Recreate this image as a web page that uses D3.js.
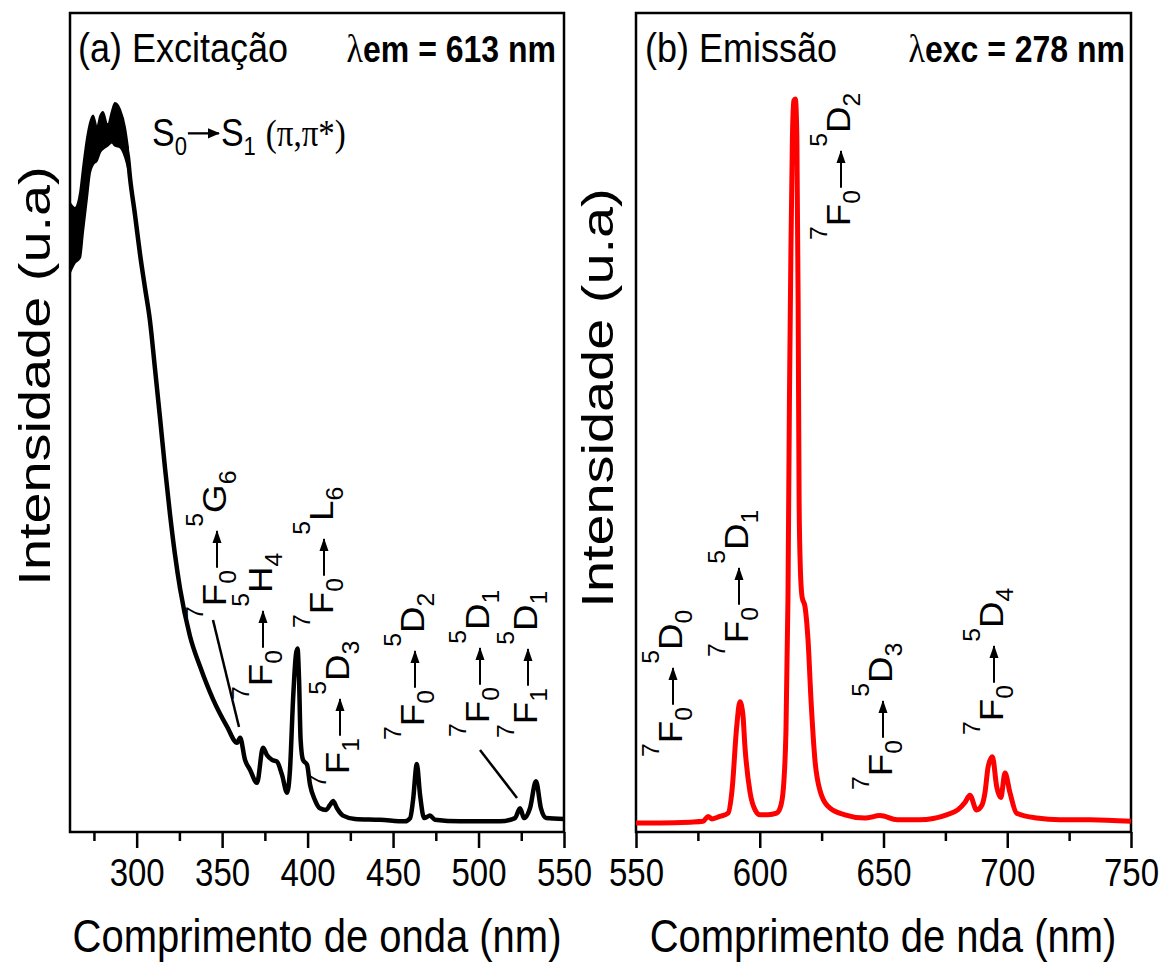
<!DOCTYPE html>
<html>
<head>
<meta charset="utf-8">
<script src="https://cdn.jsdelivr.net/npm/d3@7"></script>
<style>
body{margin:0;background:#fff;}
text{fill:#000;}
</style>
</head>
<body>
<div id="canvas"></div>
<script>
// (a) excitation spectrum, lambda em = 613 nm  (nm / normalised intensity)
var excNm  = [261,263.9,266.9,268.6,271,272.7,275.6,278.6,281.5,284.4,287.3,290.3,293.2,294.9,296.1,299,302,304.9,307.8,310.7,313.7,316.6,319.5,322.4,325.4,331.2,337.1,344.7,352.8,358.7,360.5,363.4,366.3,370.4,373.9,376.2,379.2,382.1,385,388,389.7,391.5,393.2,394.1,395,395.9,397.3,399.7,401.4,404.3,407.2,410.8,413.1,414.9,417.2,420.7,427.7,442.4,457,460,461.7,463.9,465.8,468.2,471.6,474.5,489.2,512.6,521.3,524.3,526.6,530.1,533.6,536.5,539.5,550];
var excInt = [0.725,0.728,0.741,0.772,0.812,0.836,0.846,0.855,0.860,0.864,0.864,0.859,0.842,0.824,0.799,0.754,0.705,0.664,0.624,0.566,0.505,0.444,0.388,0.339,0.297,0.239,0.202,0.162,0.129,0.109,0.115,0.088,0.076,0.060,0.103,0.094,0.088,0.086,0.070,0.048,0.076,0.162,0.217,0.224,0.186,0.113,0.088,0.082,0.058,0.039,0.029,0.027,0.033,0.038,0.029,0.020,0.016,0.015,0.013,0.017,0.039,0.083,0.045,0.017,0.020,0.015,0.013,0.013,0.017,0.029,0.017,0.029,0.062,0.029,0.017,0.016];
// noisy band at the start of the excitation curve (low / high envelope)
var bandNm = [261,263.9,266.9,268.6,271,272.7,274.5,276.8,278.6,280.3,283,285.5,287.3,290.3,293.2,294.9];
var bandLo = [0.683,0.695,0.701,0.732,0.775,0.805,0.815,0.820,0.830,0.834,0.838,0.842,0.838,0.836,0.824,0.811];
var bandHi = [0.768,0.762,0.781,0.811,0.848,0.866,0.875,0.860,0.874,0.879,0.862,0.880,0.890,0.882,0.860,0.836];

// (b) emission spectrum, lambda exc = 278 nm
var emiNm  = [550,559.7,571.8,577.1,579.1,580.7,583.9,587.2,588.8,590.7,592,593.2,594,596.1,598.1,600.1,603.3,606.8,608.6,609.8,610.6,611.4,612,612.6,613.2,613.8,614.4,615,615.5,615.9,616.3,617.1,618.3,619.5,620.7,622.3,624.3,628.4,634.4,642.5,648.6,655.5,664.7,675.5,680,682.9,684.9,687.6,689.8,691,692.3,694,695.7,697.4,699.1,701.1,703.8,711.9,721.3,733.4,750];
var emiInt = [0.011,0.011,0.012,0.013,0.019,0.016,0.019,0.023,0.051,0.129,0.159,0.143,0.105,0.048,0.027,0.021,0.021,0.023,0.033,0.064,0.125,0.284,0.529,0.713,0.848,0.893,0.895,0.848,0.652,0.407,0.333,0.287,0.275,0.235,0.162,0.088,0.051,0.029,0.021,0.017,0.020,0.015,0.015,0.021,0.027,0.036,0.045,0.027,0.033,0.048,0.080,0.092,0.056,0.042,0.072,0.048,0.023,0.017,0.015,0.015,0.013];

var excMajor = [300,350,400,450,500,550];
var excMinor = [275,325,375,425,475,525];
var emiMajor = [550,600,650,700,750];
var emiMinor = [575,625,675,725];

// transition labels  [initial term, final term]
var excLabels = [
  [['7','F','0'],['5','G','6']],
  [['7','F','0'],['5','H','4']],
  [['7','F','0'],['5','L','6']],
  [['7','F','1'],['5','D','3']],
  [['7','F','0'],['5','D','2']],
  [['7','F','0'],['5','D','1']],
  [['7','F','1'],['5','D','1']]
];
var emiLabels = [
  [['7','F','0'],['5','D','0']],
  [['7','F','0'],['5','D','1']],
  [['7','F','0'],['5','D','2']],
  [['7','F','0'],['5','D','3']],
  [['7','F','0'],['5','D','4']]
];

var SANS = '"Liberation Sans",Arial,sans-serif';
var SERIF = '"Liberation Serif","DejaVu Serif","Times New Roman",serif';

var W = 1160, H = 963;
var k = 1.15;          // lettering of the figure is stretched vertically
var yTop = 13, yBot = 832;

var svg = d3.select('#canvas').append('svg')
    .attr('width', W).attr('height', H)
    .style('font-family', SANS);

svg.append('defs').append('marker')
    .attr('id','head')
    .attr('markerUnits','userSpaceOnUse')
    .attr('markerWidth',12).attr('markerHeight',10)
    .attr('refX',11).attr('refY',5)
    .attr('orient','auto')
  .append('path')
    .attr('d','M0,0.5L12,5L0,9.5Z')
    .attr('fill','#000');

var y  = d3.scaleLinear().domain([0,1]).range([yBot, yTop]);
var xa = d3.scaleLinear().domain([261,550]).range([70,564]);
var xb = d3.scaleLinear().domain([550,750]).range([636,1131]);

function axis(x, major, minor){
    var gm = svg.append('g').attr('transform','translate(0,'+yBot+')')
        .call(d3.axisBottom(x).tickValues(minor).tickSize(9).tickFormat(''));
    var gM = svg.append('g').attr('transform','translate(0,'+yBot+')')
        .call(d3.axisBottom(x).tickValues(major).tickSize(16).tickFormat(d3.format('d')));
    [gm,gM].forEach(function(g){
        g.select('.domain').remove();
        g.selectAll('.tick line').attr('stroke','#000').attr('stroke-width',2.5);
    });
    gM.attr('font-family', null).attr('font-size', null);
    gM.selectAll('.tick text')
        .attr('y',0).attr('dy',0)
        .attr('transform','translate(0,54) scale(1,'+k+')')
        .style('font-size','33px')
        .attr('fill','#000');
    var r = x.range();
    svg.append('rect')
        .attr('x',r[0]).attr('y',yTop)
        .attr('width',r[1]-r[0]).attr('height',yBot-yTop)
        .attr('fill','none').attr('stroke','#000').attr('stroke-width',2.5);
}

axis(xa, excMajor, excMinor);
axis(xb, emiMajor, emiMinor);

// spectra
svg.append('path')
    .datum(d3.zip(bandNm, bandLo, bandHi))
    .attr('d', d3.area().curve(d3.curveMonotoneX)
        .x(function(d){return xa(d[0]);})
        .y0(function(d){return y(d[1]);}).y1(function(d){return y(d[2]);}))
    .attr('fill','#000').attr('stroke','#000').attr('stroke-width',2);

svg.append('path')
    .datum(d3.zip(excNm, excInt))
    .attr('d', d3.line().curve(d3.curveMonotoneX)
        .x(function(d){return xa(d[0]);}).y(function(d){return y(d[1]);}))
    .attr('fill','none').attr('stroke','#000').attr('stroke-width',4.5)
    .attr('stroke-linejoin','round');

svg.append('path')
    .datum(d3.zip(emiNm, emiInt))
    .attr('d', d3.line().curve(d3.curveMonotoneX)
        .x(function(d){return xb(d[0]);}).y(function(d){return y(d[1]);}))
    .attr('fill','none').attr('stroke','#ff0000').attr('stroke-width',5)
    .attr('stroke-linejoin','round');

// ---- lettering
function htext(x, yy, str, size, anchor, weight){
    return svg.append('text')
        .attr('transform','translate('+x+','+yy+') scale(1,'+k+')')
        .style('font-size',size+'px')
        .attr('text-anchor',anchor || 'start')
        .style('font-weight',weight || 'normal')
        .text(str);
}

htext(317, 952, 'Comprimento de onda (nm)', 40, 'middle');
htext(883, 952, 'Comprimento de nda (nm)', 40, 'middle');

svg.append('text')
    .attr('transform','translate(50,376) rotate(-90) scale(1.27,1)')
    .style('font-size','44px').attr('text-anchor','middle')
    .text('Intensidade (u.a)');
svg.append('text')
    .attr('transform','translate(613,398) rotate(-90) scale(1.27,1)')
    .style('font-size','44px').attr('text-anchor','middle')
    .text('Intensidade (u.a)');

htext(78, 62, '(a) Excitação', 36);
htext(645, 62, '(b) Emissão', 36);

function lambdaText(xEnd, yy, rest){
    var t = htext(xEnd, yy, '', 32, 'end', 'bold');
    t.append('tspan').style('font-family',SERIF)
        .style('font-weight','normal').style('font-size','34px').text('λ');
    t.append('tspan').text(rest);
}
lambdaText(556, 62, 'em = 613 nm');
lambdaText(1125, 62, 'exc = 278 nm');

// S0 -> S1 (pi,pi*)
(function(){
    var g = svg.append('g').attr('transform','translate(152,146) scale(1,'+k+')');
    var t1 = g.append('text').style('font-size','34px');
    t1.append('tspan').text('S');
    t1.append('tspan').style('font-size','22px').attr('dy',8).text('0');
    var w1 = t1.node().getComputedTextLength();
    g.append('line').attr('x1',w1+1).attr('x2',w1+32).attr('y1',-11).attr('y2',-11)
        .attr('stroke','#000').attr('stroke-width',2).attr('marker-end','url(#head)');
    var t2 = g.append('text').attr('x',w1+34).style('font-size','34px');
    t2.append('tspan').text('S');
    t2.append('tspan').style('font-size','22px').attr('dy',8).text('1');
    var w2 = t2.node().getComputedTextLength();
    g.append('text').attr('x',w1+34+w2+10).style('font-size','33px')
        .style('font-family',SERIF).text('(π,π*)');
})();

// rotated term-symbol labels
function term(g, x0, p){
    var t = g.append('text').attr('x',x0).style('font-size','34px');
    t.append('tspan').style('font-size','23px').attr('dy',-23).text(p[0]);
    t.append('tspan').attr('dy',23).text(p[1]);
    t.append('tspan').style('font-size','23px').attr('dy',10).text(p[2]);
    return t;
}
function transition(x, yy, lab){
    var g = svg.append('g')
        .attr('transform','translate('+x+','+yy+') rotate(-90) scale(1.08,1)');
    var t1 = term(g, 0, lab[0]);
    var w1 = t1.node().getComputedTextLength();
    g.append('line').attr('x1',w1+2).attr('x2',w1+36).attr('y1',-9).attr('y2',-9)
        .attr('stroke','#000').attr('stroke-width',2).attr('marker-end','url(#head)');
    term(g, w1+40, lab[1]);
}

var excPos = [[226,620],[272,700],[333,628],[349,788],[424,740],[489,737],[537,738]];
var emiPos = [[682,757],[748,657],[850,240],[892,790],[1003,735]];
excLabels.forEach(function(l,i){ transition(excPos[i][0], excPos[i][1], l); });
emiLabels.forEach(function(l,i){ transition(emiPos[i][0], emiPos[i][1], l); });

// pointer lines
svg.append('line').attr('x1',213).attr('y1',620).attr('x2',239).attr('y2',727)
    .attr('stroke','#000').attr('stroke-width',2.5);
svg.append('line').attr('x1',480).attr('y1',750).attr('x2',517).attr('y2',798)
    .attr('stroke','#000').attr('stroke-width',2.5);
</script>
</body>
</html>
